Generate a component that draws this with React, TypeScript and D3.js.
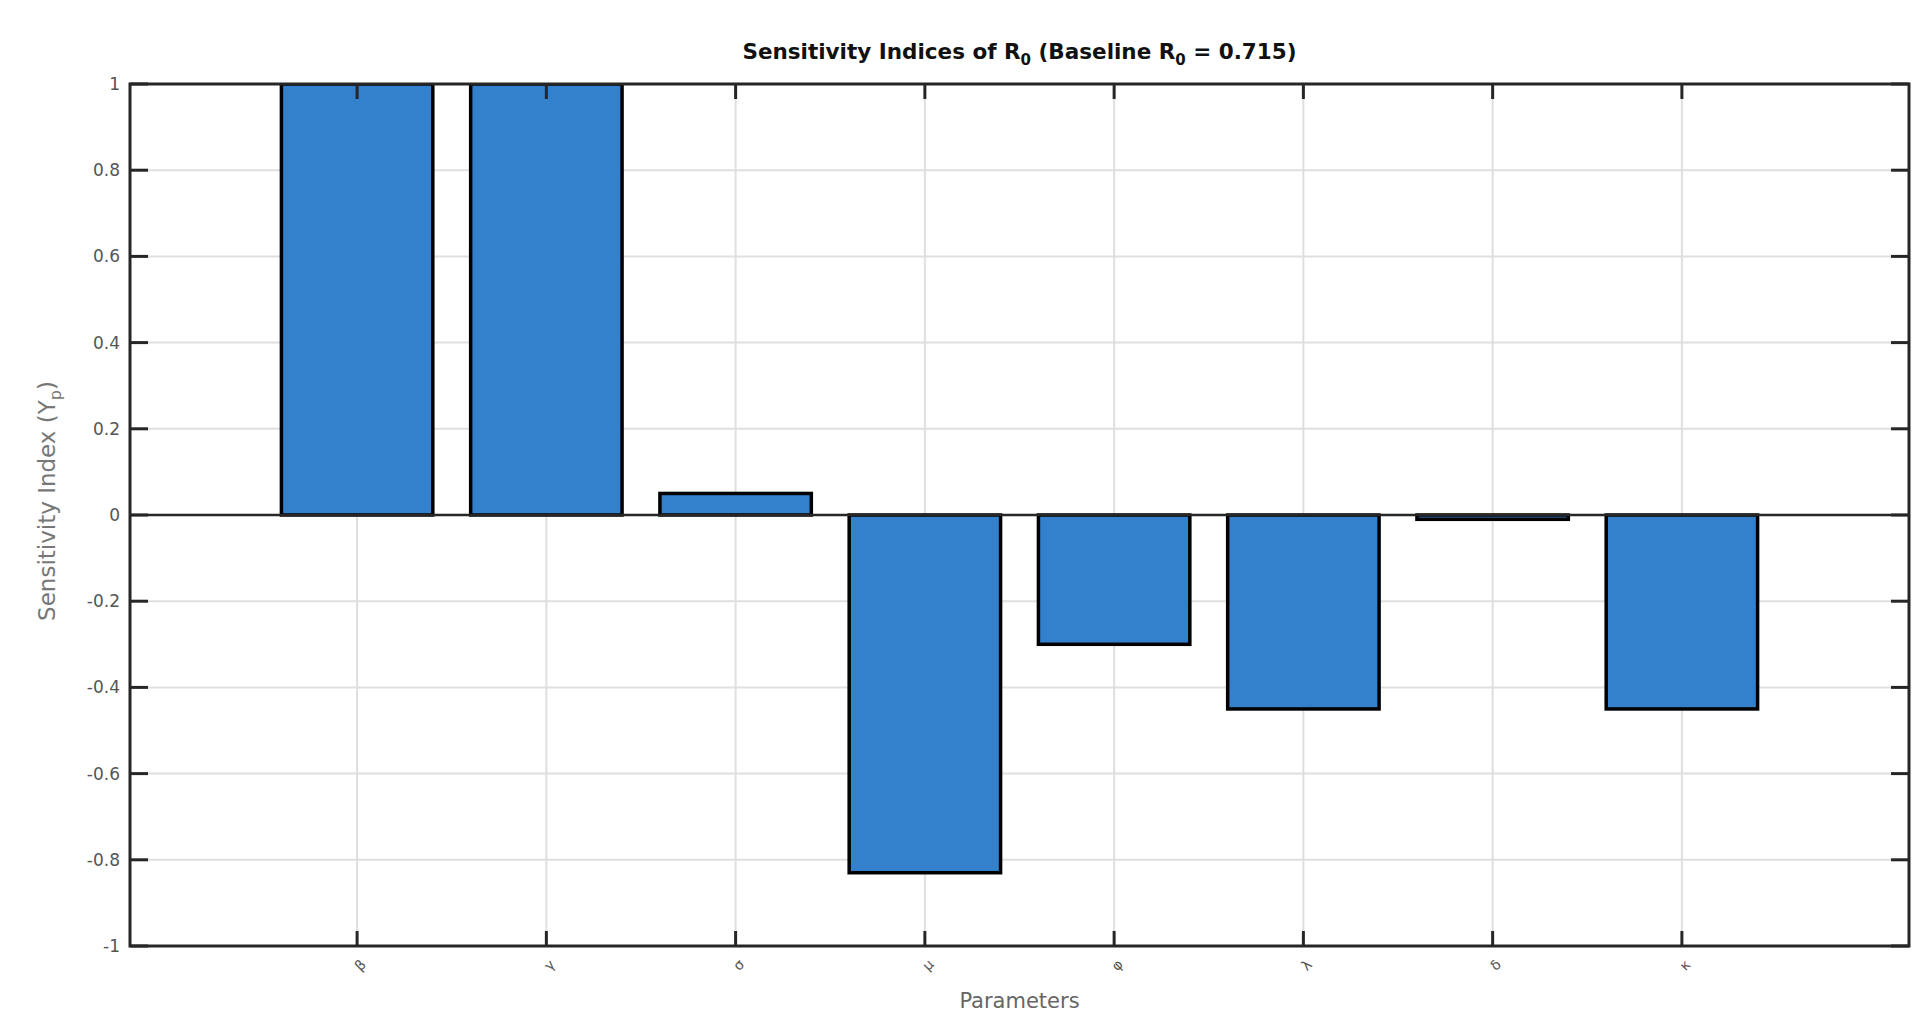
import * as React from "react";
import * as d3 from "d3";

// parameter names and their sensitivity indices
const params = ["β", "γ", "σ", "μ", "φ", "λ", "δ", "κ"];
const indices = [1.0, 1.0, 0.05, -0.83, -0.3, -0.45, -0.01, -0.45];
const yTicks = [-1, -0.8, -0.6, -0.4, -0.2, 0, 0.2, 0.4, 0.6, 0.8, 1];

const App = () => {
  const width = 1916;
  const height = 1004;
  const left = 122;
  const right = 1901;
  const top = 76;
  const bottom = 938;

  const x = d3.scaleLinear().domain([-0.2, 9.2]).range([left, right]);
  const y = d3.scaleLinear().domain([-1, 1]).range([bottom, top]);
  const barW = x(0.8) - x(0);
  const axisColor = "#262626";
  const gridColor = "#dfdfdf";

  return (
    <svg width={width} height={height} style={{ display: "block", fontFamily: "DejaVu Sans, sans-serif" }}>
      <defs>
        <clipPath id="plot">
          <rect x={left} y={top} width={right - left} height={bottom - top} />
        </clipPath>
      </defs>

      {/* grid */}
      {yTicks.map(t => (
        <line key={"gy" + t} x1={left} x2={right} y1={y(t)} y2={y(t)} stroke={gridColor} strokeWidth={2} />
      ))}
      {params.map((p, i) => (
        <line key={"gx" + p} x1={x(i + 1)} x2={x(i + 1)} y1={top} y2={bottom} stroke={gridColor} strokeWidth={2} />
      ))}

      {/* bars */}
      <g clipPath="url(#plot)">
        {indices.map((v, i) => (
          <rect
            key={params[i]}
            x={x(i + 1) - barW / 2}
            y={Math.min(y(v), y(0))}
            width={barW}
            height={Math.abs(y(v) - y(0))}
            fill="#3380cc"
            stroke="#000"
            strokeWidth={3.5}
          />
        ))}
      </g>

      {/* baseline */}
      <line x1={left} x2={right} y1={y(0)} y2={y(0)} stroke={axisColor} strokeWidth={2.5} />

      {/* ticks */}
      {yTicks.map(t => (
        <g key={"ty" + t}>
          <line x1={left} x2={left + 18} y1={y(t)} y2={y(t)} stroke={axisColor} strokeWidth={3} />
          <line x1={right - 18} x2={right} y1={y(t)} y2={y(t)} stroke={axisColor} strokeWidth={3} />
          <text x={left - 10} y={y(t)} dy="0.35em" textAnchor="end" fontSize={17} fill="#555">
            {t}
          </text>
        </g>
      ))}
      {params.map((p, i) => (
        <g key={"tx" + p}>
          <line x1={x(i + 1)} x2={x(i + 1)} y1={top} y2={top + 15} stroke={axisColor} strokeWidth={3} />
          <line x1={x(i + 1)} x2={x(i + 1)} y1={bottom - 15} y2={bottom} stroke={axisColor} strokeWidth={3} />
          <text
            transform={`translate(${x(i + 1) + 3},${bottom + 19}) rotate(-45)`}
            textAnchor="middle"
            dy="0.35em"
            fontSize={14}
            fill="#555"
          >
            {p}
          </text>
        </g>
      ))}

      {/* box */}
      <rect x={left} y={top} width={right - left} height={bottom - top} fill="none" stroke={axisColor} strokeWidth={3} />

      {/* title */}
      <text x={(left + right) / 2} y={51} textAnchor="middle" fontSize={21.5} fontWeight="bold" fill="#111">
        Sensitivity Indices of R
        <tspan dy={6} fontSize={15}>0</tspan>
        <tspan dy={-6}> (Baseline R</tspan>
        <tspan dy={6} fontSize={15}>0</tspan>
        <tspan dy={-6}> = 0.715)</tspan>
      </text>

      {/* axis labels */}
      <text transform={`translate(47,${(top + bottom) / 2 - 14}) rotate(-90)`} textAnchor="middle" fontSize={23} fill="#777">
        Sensitivity Index (Υ
        <tspan dy={6} fontSize={16}>p</tspan>
        <tspan dy={-6}>)</tspan>
      </text>
      <text x={(left + right) / 2} y={1000} textAnchor="middle" fontSize={21} fill="#666">
        Parameters
      </text>
    </svg>
  );
};

export default App;
